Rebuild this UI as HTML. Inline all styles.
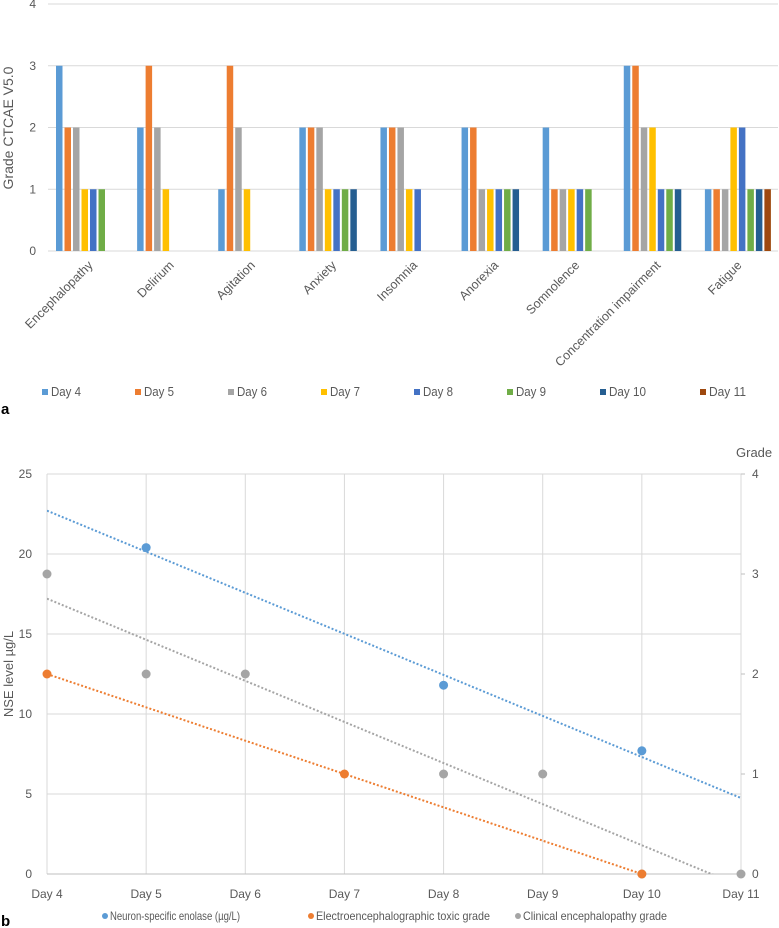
<!DOCTYPE html>
<html><head><meta charset="utf-8"><style>
body{margin:0;background:#fff;width:779px;height:928px;overflow:hidden;font-family:"Liberation Sans",sans-serif;}
svg{position:absolute;left:0;top:0}
</style></head><body>
<svg id="s" width="779" height="928" font-family="Liberation Sans, sans-serif"></svg>
<script>
// Chart a data
const categories=["Encephalopathy","Delirium","Agitation","Anxiety","Insomnia","Anorexia","Somnolence","Concentration impairment","Fatigue"];
const seriesNames=["Day 4","Day 5","Day 6","Day 7","Day 8","Day 9","Day 10","Day 11"];
const seriesColors=["#5b9bd5","#ed7d31","#a5a5a5","#ffc000","#4472c4","#70ad47","#255e91","#9e480e"];
const day4=[3,2,1,2,2,2,2,3,1];
const day5=[2,3,3,2,2,2,1,3,1];
const day6=[2,2,2,2,2,1,1,2,1];
const day7=[1,1,1,1,1,1,1,2,2];
const day8=[1,0,0,1,1,1,1,1,2];
const day9=[1,0,0,1,0,1,1,1,1];
const day10=[0,0,0,1,0,1,0,1,1];
const day11=[0,0,0,0,0,0,0,0,1];
const gradeTicks=[0,1,2,3,4];
// Chart b data
const days=["Day 4","Day 5","Day 6","Day 7","Day 8","Day 9","Day 10","Day 11"];
const nseDays=[1,4,6];
const nseValues=[20.4,11.8,7.7];
const eegDays=[0,3,6];
const eegGrades=[2,1,0];
const clinDays=[0,1,2,4,5,6,7];
const clinGrades=[3,2,2,1,1,0,0];
const nseTicks=[0,5,10,15,20,25];
const rightTicks=[0,1,2,3,4];

const S=document.getElementById('s');const NS='http://www.w3.org/2000/svg';
function el(t,a,p){const e=document.createElementNS(NS,t);for(const k in a)e.setAttribute(k,a[k]);(p||S).appendChild(e);return e;}
function txt(x,y,s,a){const e=el('text',Object.assign({x:x,y:y,'font-size':12,fill:'#595959'},a||{}));e.textContent=s;return e;}

// ---- Chart a
const aL=48,aR=778,aTop=4,aBot=251;
const ay=v=>aBot-(aBot-aTop)*v/4;
const gW=(aR-aL)/categories.length;
const series=[day4,day5,day6,day7,day8,day9,day10,day11];
gradeTicks.forEach(t=>{
 const g=el('line',{x1:aL,x2:aR,y1:ay(t),y2:ay(t),stroke:'#d9d9d9','stroke-width':1});
 
 const l=txt(36,ay(t)+4,String(t),{'text-anchor':'end','font-size':12});
 
});
const yt=txt(0,0,'Grade CTCAE V5.0',{transform:'translate(13,128) rotate(-90)','text-anchor':'middle','font-size':14});

categories.forEach((c,i)=>{
 const gx=aL+gW*i+8;
 series.forEach((arr,j)=>{
  const v=arr[i];if(!v)return;
  const b=el('rect',{x:gx+j*8.5,y:ay(v),width:6.5,height:aBot-ay(v),fill:seriesColors[j]});
  
  
 });
 const cx=aL+gW*(i+0.5);
 const l=txt(0,0,c,{transform:'translate('+(cx+5)+',266) rotate(-45)','text-anchor':'end','font-size':12.5});
 
});
const legX=[42,135,228,321,414,507,600,700];
seriesNames.forEach((n,j)=>{
 const r=el('rect',{x:legX[j],y:389,width:6,height:6,fill:seriesColors[j]});
 
 const t=txt(legX[j]+9,396,n,{'font-size':12.5,textLength:n.length>5?37:30,lengthAdjust:'spacingAndGlyphs'});
 
});
const pa=txt(1,414,'a',{'font-size':15,'font-weight':'bold',fill:'#000'});


// ---- Chart b
const bL=47,bR=741,bTop=474,bBot=874;
const bx=i=>bL+(bR-bL)*i/7;
const byL=v=>bBot-(bBot-bTop)*v/25;
const byR=v=>bBot-(bBot-bTop)*v/4;
nseTicks.forEach(t=>{
 const g=el('line',{x1:bL,x2:bR,y1:byL(t),y2:byL(t),stroke:'#d9d9d9'});
 
 const l=txt(32,byL(t)+4,String(t),{'text-anchor':'end'});
 
});
days.forEach((d,i)=>{
 const g=el('line',{x1:bx(i),x2:bx(i),y1:bTop,y2:bBot,stroke:'#d9d9d9'});
 
 const l=txt(bx(i),898,d,{'text-anchor':'middle'});
 
});
rightTicks.forEach(t=>{
 const k=el('line',{x1:bR,x2:bR+4,y1:byR(t),y2:byR(t),stroke:'#bfbfbf'});
 
 const l=txt(752,byR(t)+4,String(t));
 
});
const g2=txt(736,457,'Grade',{'font-size':13});
const t2=txt(0,0,'NSE level µg/L',{transform:'translate(13,674) rotate(-90)','text-anchor':'middle','font-size':13});

el('line',{x1:bL,x2:bR,y1:bBot,y2:bBot,stroke:'#bfbfbf'});
const cp=el('clipPath',{id:'cp'});el('rect',{x:bL,y:bTop,width:bR-bL,height:bBot-bTop},cp);
function fit(xs,ys){const n=xs.length,mx=xs.reduce((a,b)=>a+b)/n,my=ys.reduce((a,b)=>a+b)/n;let sxy=0,sxx=0;xs.forEach((x,i)=>{sxy+=(x-mx)*(ys[i]-my);sxx+=(x-mx)**2});const m=sxy/sxx;return[m,my-m*mx];}
function trend(xs,ys,yf,col,name){const[m,c]=fit(xs,ys);const l=el('line',{x1:bx(0),y1:yf(c),x2:bx(7),y2:yf(c+7*m),stroke:col,'stroke-width':2,'stroke-dasharray':'2,2','clip-path':'url(#cp)'});}
trend(nseDays,nseValues,byL,'#5b9bd5','trendline-nse');
trend(eegDays,eegGrades,byR,'#ed7d31','trendline-eeg');
trend(clinDays,clinGrades,byR,'#a5a5a5','trendline-clinical');
function pts(xs,ys,yf,col,name){xs.forEach((x,i)=>{const p=el('circle',{cx:bx(x),cy:yf(ys[i]),r:4.5,fill:col});});}
pts(clinDays,clinGrades,byR,'#a5a5a5','point-clinical');
pts(nseDays,nseValues,byL,'#5b9bd5','point-nse');
pts(eegDays,eegGrades,byR,'#ed7d31','point-eeg');
const leg=[['Neuron-specific enolase (µg/L)','#5b9bd5',105,130],['Electroencephalographic toxic grade','#ed7d31',311,174],['Clinical encephalopathy grade','#a5a5a5',518,144]];
leg.forEach(([n,c,x,w])=>{
 const d=el('circle',{cx:x,cy:916,r:3,fill:c});
 const t=txt(x+5,920,n,{'font-size':12,textLength:w,lengthAdjust:'spacingAndGlyphs'});
});
const pb=txt(1,926,'b',{'font-size':15,'font-weight':'bold',fill:'#000'});

</script>
</body></html>
